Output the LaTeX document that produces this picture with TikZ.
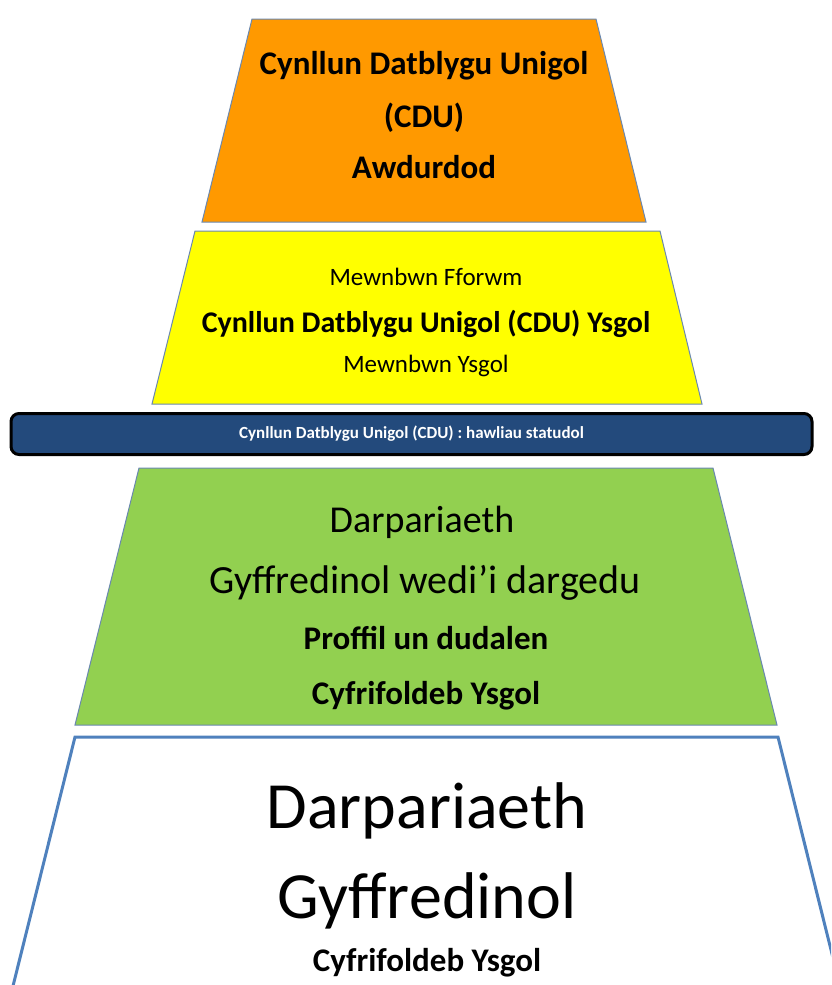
\documentclass[tikz,border=0pt]{standalone}
\usepackage{fontspec}
\setmainfont{Carlito}
\usepackage{xcolor}
\usetikzlibrary{positioning}
\definecolor{cduorange}{HTML}{FF9900}
\definecolor{cduyellow}{HTML}{FFFF00}
\definecolor{cdugreen}{HTML}{92D050}
\definecolor{cdublue}{HTML}{234A7C}
\definecolor{cduedge}{HTML}{6A88B0}
\definecolor{cduline}{HTML}{4F81BD}
\newcommand{\fsz}[1]{\fontsize{#1}{#1}\selectfont}

\begin{document}
\begin{tikzpicture}[x=1pt,y=-1pt,
	tier/.style={draw=cduedge, line width=1pt},
	txt/.style={anchor=base, inner sep=0pt}]
	\useasboundingbox (0,0) rectangle (831,985);
	%orange tier
	\draw[tier, fill=cduorange] (252,19) -- (596,19) -- (646,222) -- (202,222) -- cycle;
	\node[txt, font=\bfseries\fsz{33}] (orangeA) at (424,74) {Cynllun Datblygu Unigol};
	\node[txt, font=\bfseries\fsz{33}] (orangeB) at (424,127) {(CDU)};
	\node[txt, font=\bfseries\fsz{33}] (orangeC) at (424,178) {Awdurdod};
	%yellow tier
	\draw[tier, fill=cduyellow] (195,231) -- (660,231) -- (702,404) -- (152,404) -- cycle;
	\node[txt, font=\fsz{25}] (yellowA) at (426,285) {Mewnbwn Fforwm};
	\node[txt, font=\bfseries\fsz{30}] (yellowB) at (426,332) {Cynllun Datblygu Unigol (CDU) Ysgol};
	\node[txt, font=\fsz{25}] (yellowC) at (426,372) {Mewnbwn Ysgol};
	%statutory bar
	\node[draw=black, line width=3pt, fill=cdublue, rounded corners=8pt,
		minimum width=801pt, minimum height=41pt, text=white, font=\bfseries\fsz{17}]
		(bar) at (411.5,434) {Cynllun Datblygu Unigol (CDU) : hawliau statudol};
	%green tier
	\draw[tier, fill=cdugreen] (139,468) -- (713,468) -- (777,725) -- (75,725) -- cycle;
	\node[txt, font=\fsz{38}] (greenA) at (422,532) {Darpariaeth};
	\node[txt, font=\fsz{40}] (greenB) at (425,593) {Gyffredinol wedi’i dargedu};
	\node[txt, font=\bfseries\fsz{33}] (greenC) at (426,649) {Proffil un dudalen};
	\node[txt, font=\bfseries\fsz{33}] (greenD) at (426,704) {Cyfrifoldeb Ysgol};
	%white tier
	\begin{scope}
		\clip (0,0) rectangle (831,985);
		\draw[draw=cduline, line width=3pt, fill=white] (12,990) -- (75,737) -- (778,737) -- (841,990);
	\end{scope}
	\node[txt, font=\fsz{66}] (whiteA) at (427,828) {Darpariaeth};
	\node[txt, font=\fsz{66}] (whiteB) at (427,918) {Gyffredinol};
	\node[txt, font=\bfseries\fsz{33}] (whiteC) at (427,971) {Cyfrifoldeb Ysgol};
\end{tikzpicture}
\end{document}
